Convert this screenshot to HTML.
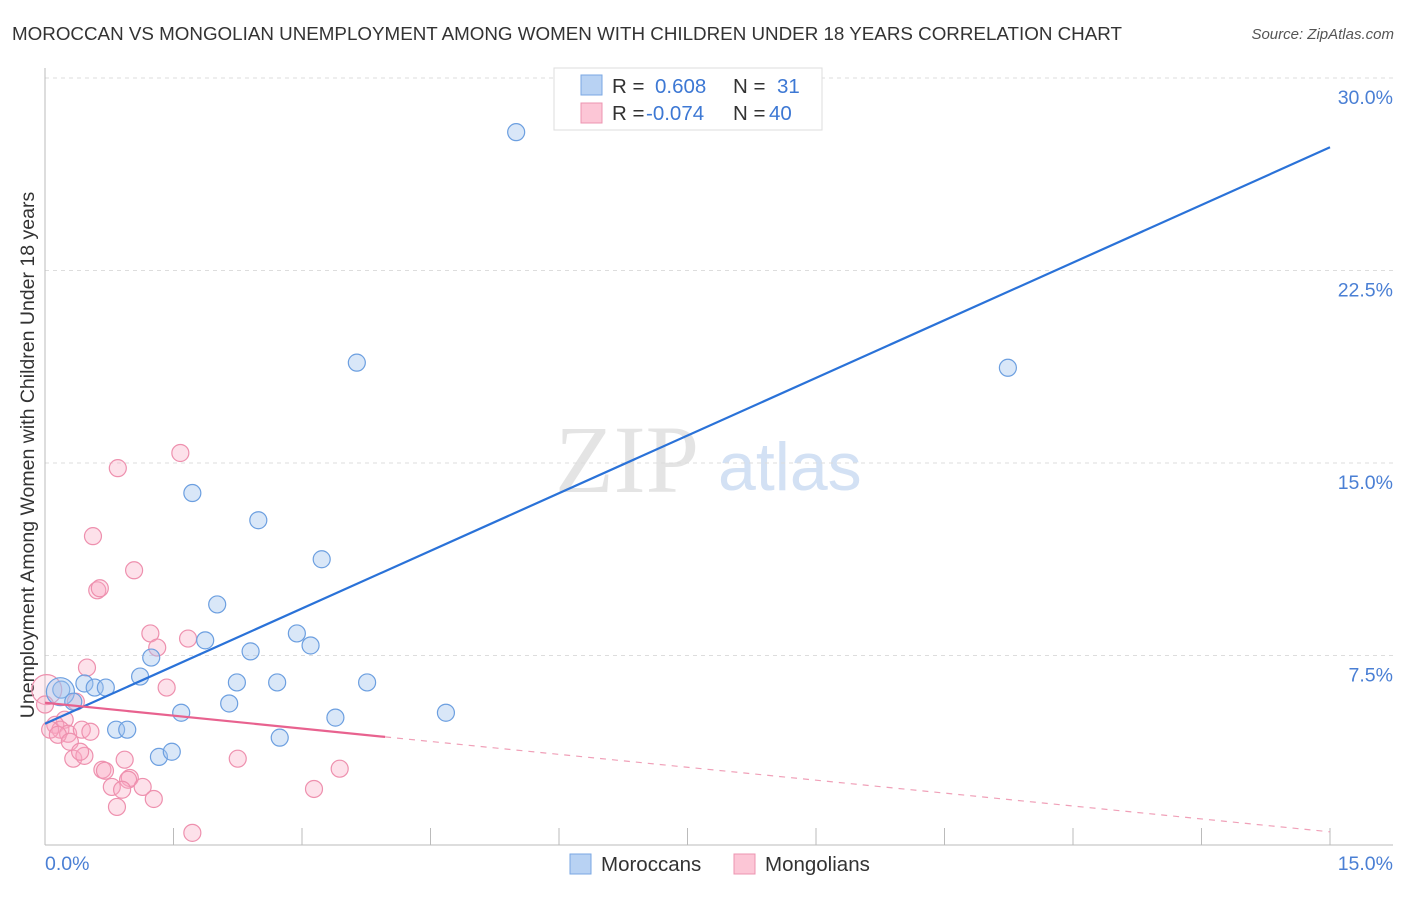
<!DOCTYPE html>
<html><head><meta charset="utf-8"><style>
body{margin:0;background:#fff;width:1406px;height:892px;overflow:hidden;font-family:"Liberation Sans",sans-serif}
</style></head><body>
<svg id="chart" width="1406" height="892" xmlns="http://www.w3.org/2000/svg">
<text x="12" y="40" font-size="18.8" fill="#333">MOROCCAN VS MONGOLIAN UNEMPLOYMENT AMONG WOMEN WITH CHILDREN UNDER 18 YEARS CORRELATION CHART</text>
<text x="1394" y="39" font-size="15" fill="#555" font-style="italic" text-anchor="end">Source: ZipAtlas.com</text>
<text transform="translate(34,455) rotate(-90)" font-size="19.5" fill="#333" text-anchor="middle">Unemployment Among Women with Children Under 18 years</text>
<text x="555" y="492" font-size="96" fill="#e4e4e4" font-family="Liberation Serif">ZIP</text>
<text x="718" y="490" font-size="68" fill="#d3e1f4">atlas</text>
<g id="grid"></g><g id="axes"></g><g id="marks"></g><g id="lines"></g>
<g>
<rect x="554" y="68" width="268" height="62" fill="#fff" stroke="#ddd"/>
<rect x="581" y="75" width="21" height="20" fill="#b8d2f3" stroke="#7aa7e3"/>
<rect x="581" y="103" width="21" height="20" fill="#fcc6d6" stroke="#ec94b0"/>
<text x="612" y="93" font-size="20.5" fill="#333">R =</text><text x="655" y="93" font-size="20.5" fill="#3d78d4">0.608</text>
<text x="733" y="93" font-size="20.5" fill="#333">N =</text><text x="777" y="93" font-size="20.5" fill="#3d78d4">31</text>
<text x="612" y="120" font-size="20.5" fill="#333">R =</text><text x="646" y="120" font-size="20.5" fill="#3d78d4">-0.074</text>
<text x="733" y="120" font-size="20.5" fill="#333">N =</text><text x="769" y="120" font-size="20.5" fill="#3d78d4">40</text>
</g>
<g>
<rect x="570" y="854" width="21" height="20" fill="#b8d2f3" stroke="#7aa7e3"/>
<text x="601" y="871" font-size="20.5" fill="#333">Moroccans</text>
<rect x="734" y="854" width="21" height="20" fill="#fcc6d6" stroke="#ec94b0"/>
<text x="765" y="871" font-size="20.5" fill="#333">Mongolians</text>
</g>
</svg>
<script>
const yTicks=[7.5,15,22.5,30];
const yTickLabels=["7.5%","15.0%","22.5%","30.0%"];
const xTickLabels=["0.0%","15.0%"];
const blueX=[5.50,3.64,11.24,1.72,2.49,3.23,2.01,2.94,3.10,1.87,2.40,1.24,1.11,2.24,2.71,3.76,0.46,0.58,0.71,0.19,2.15,1.59,3.39,4.68,0.83,0.96,2.74,1.33,1.48,0.18,0.33];
const blueY=[27.89,18.91,18.71,13.83,12.77,11.25,9.49,8.36,7.89,8.09,7.66,7.42,6.68,6.45,6.45,6.45,6.41,6.25,6.25,6.17,5.63,5.27,5.08,5.27,4.61,4.61,4.30,3.55,3.75,6.09,5.70];
const pinkX=[1.58,0.85,0.56,1.04,0.61,0.64,1.23,1.31,1.67,0.49,1.42,0.02,0.00,0.36,0.23,0.12,0.18,0.27,0.43,0.53,0.06,0.15,0.29,0.33,0.46,0.41,0.93,2.25,0.67,0.70,0.99,0.97,0.78,0.90,1.14,1.27,0.84,3.14,3.44,1.72];
const pinkY=[15.39,14.80,12.15,10.82,10.04,10.12,8.36,7.81,8.16,7.03,6.25,6.17,5.59,5.70,5.00,4.80,4.61,4.45,4.61,4.53,4.61,4.41,4.14,3.48,3.59,3.75,3.44,3.48,3.05,3.01,2.73,2.66,2.38,2.27,2.38,1.91,1.60,2.30,3.09,0.59];
const blueTrend=[4.84,27.3];
const pinkTrend=[5.66,0.63];
const pinkSolidEnd=3.97;
const NS='http://www.w3.org/2000/svg';
const X=v=>45+v/15*1285, Y=v=>848-v/7.5*192.5;
function mk(t,a,p){const e=document.createElementNS(NS,t);for(const k in a)e.setAttribute(k,a[k]);document.getElementById(p).appendChild(e);return e;}
yTicks.forEach((t,i)=>{
 const g=mk('line',{x1:45,x2:1393,y1:Y(t),y2:Y(t),stroke:'#ddd','stroke-dasharray':'4,4'},'grid');
 
 
 const l=mk('text',{x:1393,y:Y(t)+26,'font-size':19.5,fill:'#4a7fd4','text-anchor':'end'},'grid');
 l.textContent=yTickLabels[i];
 
 
});
const ax=mk('line',{x1:45,x2:45,y1:68,y2:845,stroke:'#bbb'},'axes');


const bx=mk('line',{x1:45,x2:1393,y1:845,y2:845,stroke:'#bbb'},'axes');


for(let i=1;i<=10;i++){const t=mk('line',{x1:X(i*1.5),x2:X(i*1.5),y1:828,y2:845,stroke:'#bbb'},'axes');
 
 }
[[45,'start'],[1393,'end']].forEach((p,i)=>{const l=mk('text',{x:p[0],y:870,'font-size':19.5,fill:'#4a7fd4','text-anchor':p[1]},'axes');l.textContent=xTickLabels[i];
 
 });
pinkX.forEach((x,i)=>{const c=mk('circle',{cx:X(x),cy:Y(pinkY[i]),r:i==11?15:8.5,fill:i==11?'rgba(248,170,195,0.2)':'rgba(248,170,195,0.35)',stroke:'#ee90ae','stroke-width':1.2},'marks');
 
 });
blueX.forEach((x,i)=>{const c=mk('circle',{cx:X(x),cy:Y(blueY[i]),r:i==29?14:8.5,fill:'rgba(160,195,238,0.4)',stroke:'#6c9fe0','stroke-width':1.2},'marks');
 
 });
const bl=mk('line',{x1:X(0),y1:Y(blueTrend[0]),x2:X(15),y2:Y(blueTrend[1]),stroke:'#2a72d8','stroke-width':2.2},'lines');


const pe=pinkTrend[0]+(pinkTrend[1]-pinkTrend[0])*pinkSolidEnd/15;
const pl=mk('line',{x1:X(0),y1:Y(pinkTrend[0]),x2:X(pinkSolidEnd),y2:Y(pe),stroke:'#e8628f','stroke-width':2.2},'lines');


const pd=mk('line',{x1:X(pinkSolidEnd),y1:Y(pe),x2:X(15),y2:Y(pinkTrend[1]),stroke:'#f0a0b8','stroke-width':1.2,'stroke-dasharray':'6,6'},'lines');


</script>
</body></html>
